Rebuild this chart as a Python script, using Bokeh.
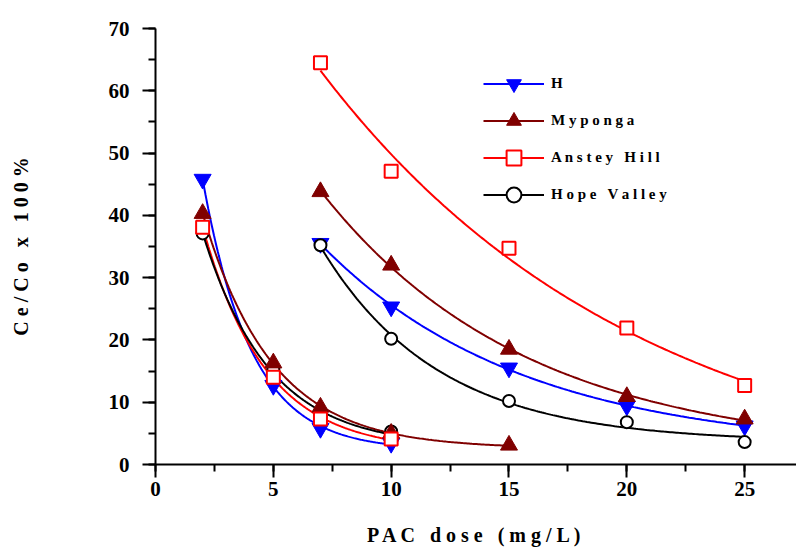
import numpy as np
from bokeh.plotting import figure
from bokeh.models import Range1d, SingleIntervalTicker, Legend, LegendItem
from bokeh.embed import file_html
from bokeh.resources import INLINE

# PAC dose (mg/L) for the two dosing runs
dose_low = [2, 5, 7, 10]
dose_low_myponga = [2, 5, 7, 10, 15]
dose_high = [7, 10, 15, 20, 25]

# Ce/Co x 100% for each water source
h_low = [45.8, 12.7, 5.8, 3.4]
myponga_low = [40.3, 16.3, 9.2, 5.0, 3.1]
anstey_low = [38.1, 14.0, 7.3, 4.1]
hope_low = [37.1, 15.3, 7.6, 5.3]

h_high = [35.5, 25.3, 15.5, 9.4, 6.2]
myponga_high = [43.8, 32.0, 18.5, 10.9, 7.3]
anstey_high = [64.5, 47.1, 34.7, 21.9, 12.7]
hope_high = [35.2, 20.2, 10.2, 6.8, 3.6]

legend_names = ["H", "Myponga", "Anstey Hill", "Hope Valley"]
x_title = "PAC dose (mg/L)"
y_title = "Ce/Co x 100%"

FONT = "Liberation Serif"


def spread(s):
    """Wide-tracked lettering: one space between letters, a wider gap between words."""
    return " \u00a0 ".join(" ".join(word) for word in s.split(" "))


def expdec_curve(xs, ys, n=200):
    """First-order exponential decay fit y = y0 + A*exp(-x/t), sampled over the data span."""
    x = np.asarray(xs, float)
    y = np.asarray(ys, float)
    best = None
    for t in np.geomspace(0.3, 400, 3000):
        e = np.exp(-x / t)
        m = np.column_stack([np.ones_like(x), e])
        coef, *_ = np.linalg.lstsq(m, y, rcond=None)
        sse = float(np.sum((m @ coef - y) ** 2))
        if best is None or sse < best[0]:
            best = (sse, t, coef)
    _, t, (y0, a) = best
    xf = np.linspace(x[0], x[-1], n)
    return xf, y0 + a * np.exp(-xf / t)


p = figure(
    width=796, height=551,
    output_backend="svg", toolbar_location=None,
    x_range=Range1d(0, 27.2), y_range=Range1d(0, 70),
    min_border_left=155, min_border_right=0,
    min_border_top=28, min_border_bottom=87,
)
p.outline_line_color = None
p.grid.visible = False
p.background_fill_color = "white"
p.border_fill_color = "white"

p.xaxis.ticker = SingleIntervalTicker(interval=5, num_minor_ticks=2)
p.yaxis.ticker = SingleIntervalTicker(interval=10, num_minor_ticks=2)
for ax in (p.xaxis, p.yaxis):
    ax.axis_line_width = 2
    ax.axis_line_color = "black"
    ax.major_tick_line_width = 2
    ax.minor_tick_line_width = 2
    ax.major_tick_line_color = "black"
    ax.minor_tick_line_color = "black"
    ax.major_tick_in = 0
    ax.minor_tick_in = 0
    ax.major_tick_out = 13
    ax.minor_tick_out = 7
    ax.major_label_text_font = FONT
    ax.major_label_text_font_style = "bold"
    ax.major_label_text_font_size = "21px"
    ax.major_label_text_color = "black"
    ax.axis_label_text_font = FONT
    ax.axis_label_text_font_style = "bold"
    ax.axis_label_text_font_size = "20px"
    ax.axis_label_text_color = "black"

p.xaxis.major_label_standoff = 4
p.yaxis.major_label_standoff = 13
p.xaxis.axis_label = spread(x_title)
p.yaxis.axis_label = spread(y_title)
p.xaxis.axis_label_standoff = 25
p.yaxis.axis_label_standoff = 74

series = [
    # name, color, marker, fill, size, low x, low y, high y
    ("H", "#0000FF", "inverted_triangle", "#0000FF", 17, dose_low, h_low, h_high),
    ("Myponga", "#800000", "triangle", "#800000", 17, dose_low_myponga, myponga_low, myponga_high),
    ("Anstey Hill", "#FF0000", "square", "white", 13, dose_low, anstey_low, anstey_high),
    ("Hope Valley", "#000000", "circle", "white", 12, dose_low, hope_low, hope_high),
]

lines = {}
for name, color, marker, fill, size, xl, yl, yh in series:
    fx, fy = expdec_curve(xl, yl)
    p.line(fx, fy, line_color=color, line_width=2)
    fx, fy = expdec_curve(dose_high, yh)
    lines[name] = p.line(fx, fy, line_color=color, line_width=2)

marks = {}
for idx in (0, 3, 1, 2):
    name, color, marker, fill, size, xl, yl, yh = series[idx]
    kw = dict(marker=marker, size=size, line_color=color, fill_color=fill,
              line_width=2 if fill == "white" else 1)
    p.scatter(xl, yl, **kw)
    marks[name] = p.scatter(dose_high, yh, **kw)

legend = Legend(
    items=[LegendItem(label=spread(n), renderers=[lines[n], marks[n]]) for n in legend_names],
    location=(328, 251),
    border_line_color=None,
    background_fill_alpha=0,
    padding=0, margin=0,
    spacing=0,
    glyph_width=61, glyph_height=37,
    label_height=37, label_standoff=7,
    label_text_font=FONT, label_text_font_style="bold",
    label_text_font_size="15px", label_text_color="black",
)
p.add_layout(legend)

open("out.html", "w").write(file_html(p, INLINE))
